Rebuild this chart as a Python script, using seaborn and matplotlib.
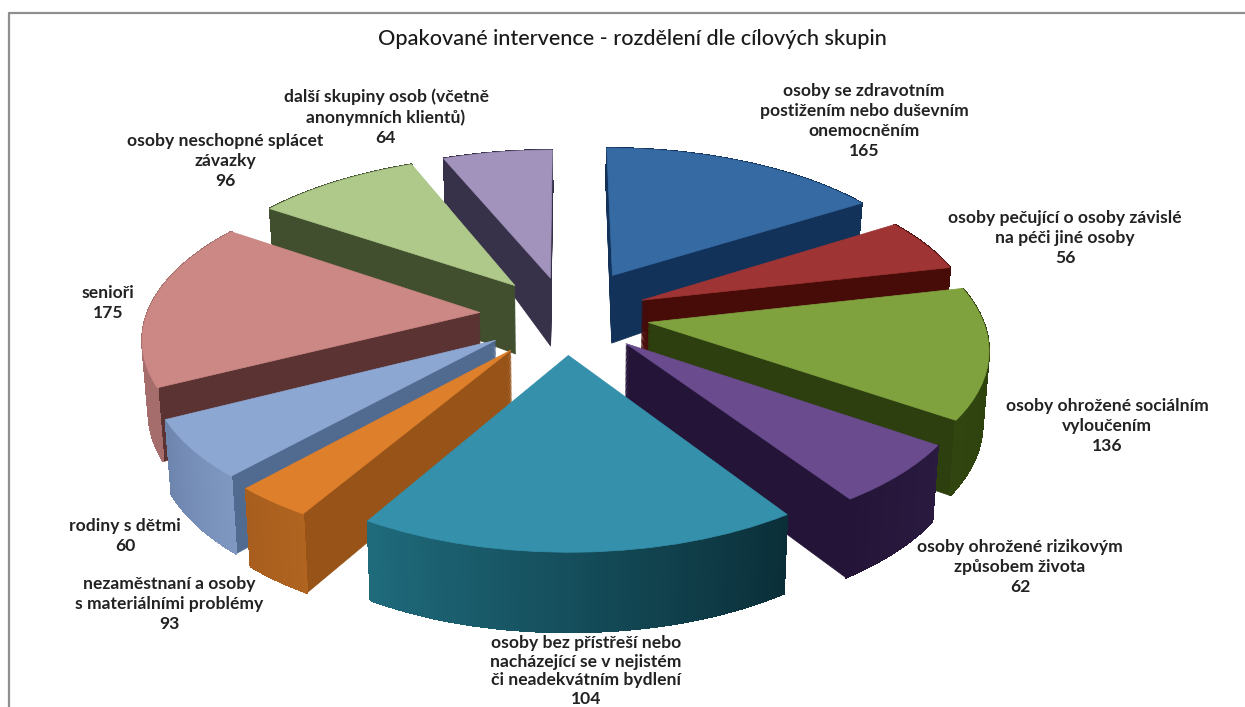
import numpy as np
import matplotlib
matplotlib.use("Agg")
import matplotlib.pyplot as plt
import seaborn as sns
from matplotlib.patches import Polygon
from matplotlib.transforms import Transform

# printed in the chart's labels
labels = [
    "osoby se zdravotním\npostižením nebo duševním\nonemocněním",
    "osoby pečující o osoby závislé\nna péči jiné osoby",
    "osoby ohrožené sociálním\nvyloučením",
    "osoby ohrožené rizikovým\nzpůsobem života",
    "osoby bez přístřeší nebo\nnacházející se v nejistém\nči neadekvátním bydlení",
    "nezaměstnaní a osoby\ns materiálními problémy",
    "rodiny s dětmi",
    "senioři",
    "osoby neschopné splácet\nzávazky",
    "další skupiny osob (včetně\nanonymních klientů)",
]
printed_values = [165, 56, 136, 62, 104, 93, 60, 175, 96, 64]
# slice sizes as drawn: the teal and orange slices look like about 184 and 33,
# not what their blurred labels read
slice_values = [165, 56, 136, 62, 184, 33, 60, 175, 96, 64]

top_colors = ["#366AA3", "#9E3433", "#7FA23F", "#694B8E", "#3590AC",
              "#DE7F2B", "#8DA7D3", "#CC8885", "#AFC98B", "#A193BC"]
wall_colors = ["#12325A", "#470B08", "#2D3F0F", "#241538", "#0F4858",
               "#975318", "#506A90", "#5A3332", "#414F2E", "#38314A"]
rim_start = ["#12325A", "#470B08", "#2D3F0F", "#2A1A40", "#0A2E38",
             "#B06420", "#7F98C2", "#A56E6C", "#414F2E", "#38314A"]
rim_end = ["#12325A", "#470B08", "#30450F", "#241538", "#1F6A7C",
           "#A85E1E", "#6E86AE", "#A56E6C", "#414F2E", "#38314A"]
draw_order = [9, 0, 1, 8, 7, 2, 6, 5, 3, 4]

label_x = [864, 1065, 1107, 1020, 586, 169, 125, 108, 225, 386]
label_y = [121, 238, 426, 567, 671, 604, 536, 303, 161, 117]
label_spacing = [1.3, 1.3, 1.3, 1.3, 1.2, 1.3, 1.3, 1.3, 1.3, 1.3]

CX, CY = 566, 315
RX, RY, PERSP = 333, 156, 0.1425
N_LAYERS = 60


def project(x, y, depth):
    s = 1 / (1 + PERSP * y)
    wall = np.interp(y, [-1.2, 0.25, 1.25], [80, 68, 42])
    squeeze = 1 - 0.015 * depth
    return CX + RX * x * s * squeeze, CY - RY * y * s + wall * depth


class Tilt(Transform):
    input_dims = 2
    output_dims = 2
    is_separable = False

    def __init__(self, level):
        super().__init__()
        self.level = level

    def transform_non_affine(self, values):
        sx, sy = project(values[:, 0], values[:, 1], self.level)
        return np.column_stack([sx, sy])


sns.set_theme(style="white")
plt.rcParams["font.family"] = ["Lato", "DejaVu Sans"]

fig = plt.figure(figsize=(12.45, 7.07), dpi=100, facecolor="white")
ax = fig.add_axes([0, 0, 1, 1])

explode = [0.30, 0.25, 0.25, 0.25, 0.25, 0.27, 0.26, 0.26, 0.25, 0.25]
rank = {k: i for i, k in enumerate(draw_order)}

for layer in range(N_LAYERS + 1):
    depth = 1 - layer / N_LAYERS
    palette = top_colors if layer == N_LAYERS else wall_colors
    wedges, _ = ax.pie(slice_values, explode=explode, startangle=90, counterclock=False,
                       colors=sns.color_palette(palette))
    for i, w in enumerate(wedges):
        w.set_transform(Tilt(depth) + ax.transData)
        w.set_edgecolor(palette[i])
        w.set_linewidth(0.5)
        w.set_zorder(rank[i] * 1000 + (900 if layer == N_LAYERS else layer))

# outer wall with its left to right shading
for i, w in enumerate(wedges):
    start = np.array(matplotlib.colors.to_rgb(rim_start[i]))
    end = np.array(matplotlib.colors.to_rgb(rim_end[i]))
    angles = np.radians(np.linspace(w.theta2, w.theta1, 61))
    for j in range(60):
        c = start + (end - start) * (j + 0.5) / 60
        xs = w.center[0] + np.cos(angles[j:j + 2])
        ys = w.center[1] + np.sin(angles[j:j + 2])
        x0, y0 = project(xs, ys, 0)
        x1, y1 = project(xs, ys, 1)
        pts = np.column_stack([np.r_[x0, x1[::-1]], np.r_[y0, y1[::-1]]])
        ax.add_patch(Polygon(pts, closed=True, facecolor=c, edgecolor=c, linewidth=0.8,
                             antialiased=False, zorder=rank[i] * 1000 + 500))

ax.set_aspect("auto")
ax.set_xlim(0, 1245)
ax.set_ylim(707, 0)
ax.axis("off")

ax.plot([9, 9, 1245], [707, 13, 13], color="#8f8f8f", lw=1.6, zorder=20000)

ax.text(632, 39, "Opakované intervence - rozdělení dle cílových skupin", ha="center", va="center",
        fontsize=15.6, fontweight="medium", color="#1a1a1a", zorder=20000)
for name, val, x, y, sp in zip(labels, printed_values, label_x, label_y, label_spacing):
    ax.text(x, y, f"{name}\n{val}", ha="center", va="center", fontsize=12.6, fontweight="bold",
            color="#222222", linespacing=sp, zorder=20000, clip_on=False)

fig.savefig("out.png", dpi=100)
